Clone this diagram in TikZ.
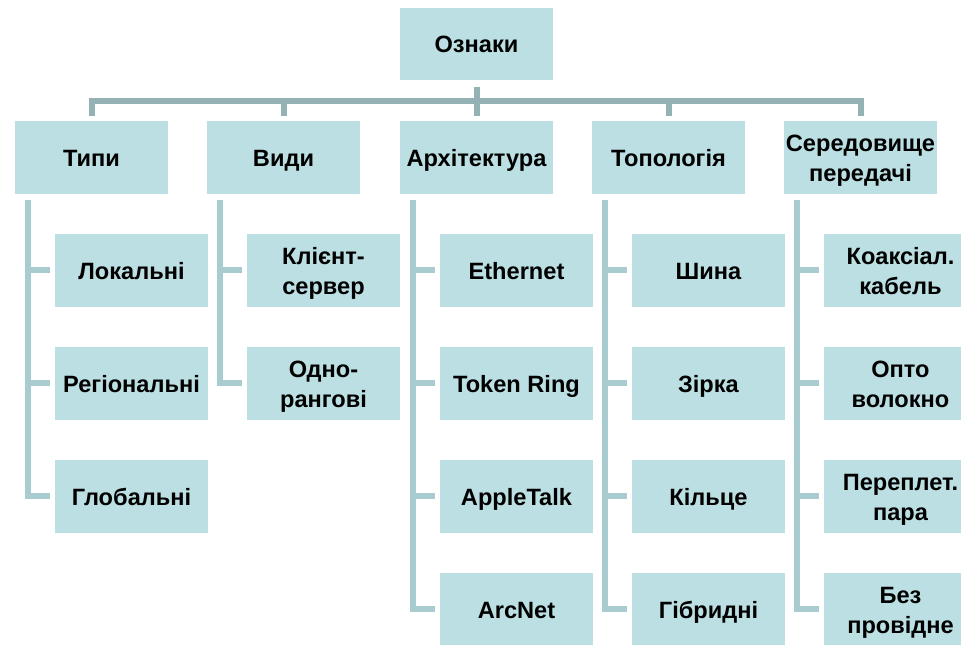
\documentclass[tikz,border=0pt]{standalone}
\usepackage{fontspec}
\setmainfont{Liberation Sans}
\definecolor{boxfill}{HTML}{BBDFE2}
\definecolor{buscol}{HTML}{94B2B4}
\definecolor{branchcol}{HTML}{A8CCCF}
% two centred lines, 30pt apart, around a common midline
\newcommand\pairtext[2]{%
  \makebox[0pt]{\raisebox{15pt}{#1}}\makebox[0pt]{\raisebox{-15pt}{#2}}}
\tikzset{
  cell/.style={rectangle, fill=boxfill, minimum width=153pt, minimum height=73pt,
    inner sep=0pt, text=black,
    font=\bfseries\fontsize{23.6}{28.5}\selectfont},
  % fixed metrics so every baseline sits at the same place in its box
  oneline/.style={text height=21.4pt, text depth=3pt},
  twoline/.style={text height=21pt, text depth=3pt},
  bus/.style={draw=buscol, line width=6pt, line join=miter},
  branch/.style={draw=branchcol, line width=5.5pt, line join=miter},
}
\begin{document}
\begin{tikzpicture}[x=1pt, y=1pt]
  \clip (0,0) rectangle (961,-645);
  \fill[white] (0,0) rectangle (961,-645);

  % root
  \node[cell, oneline, minimum height=72.5pt] (root) at (476.5,-43.75) {Ознаки};

  % first level
  \node[cell, oneline] (c1) at (91.5,-157.5)  {Типи};
  \node[cell, oneline] (c2) at (283.5,-157.5) {Види};
  \node[cell, oneline] (c3) at (476.5,-157.5) {Архітектура};
  \node[cell, oneline] (c4) at (668.5,-157.5) {Топологія};
  \node[cell, twoline] (c5) at (860.5,-157.5) {\pairtext{Середовище}{передачі}};

  % second level
  \begin{scope}[every node/.append style={minimum height=74pt}]
  \node[cell, oneline] (a1) at (131.5,-270) {Локальні};
  \node[cell, oneline] (a2) at (131.5,-383) {Регіональні};
  \node[cell, oneline] (a3) at (131.5,-496) {Глобальні};

  \node[cell, twoline] (b1) at (323.5,-270) {\pairtext{Клієнт-}{сервер}};
  \node[cell, twoline] (b2) at (323.5,-383) {\pairtext{Одно-}{рангові}};

  \node[cell, oneline] (d1) at (516.5,-270) {Ethernet};
  \node[cell, oneline] (d2) at (516.5,-383) {Token Ring};
  \node[cell, oneline] (d3) at (516.5,-496) {AppleTalk};
  \node[cell, oneline] (d4) at (516.5,-609) {ArcNet};

  \node[cell, oneline] (e1) at (708.5,-270) {Шина};
  \node[cell, oneline] (e2) at (708.5,-383) {Зірка};
  \node[cell, oneline] (e3) at (708.5,-496) {Кільце};
  \node[cell, oneline] (e4) at (708.5,-609) {Гібридні};

  \node[cell, twoline] (f1) at (900.5,-270) {\pairtext{Коаксіал.}{кабель}};
  \node[cell, twoline] (f2) at (900.5,-383) {\pairtext{Опто}{волокно}};
  \node[cell, twoline] (f3) at (900.5,-496) {\pairtext{Переплет.}{пара}};
  \node[cell, twoline] (f4) at (900.5,-609) {\pairtext{Без}{провідне}};
  \end{scope}

  % bus from the root to the first level
  \draw[bus] ([yshift=5]c1.north) -- ([yshift=20]c1.north) -| ([yshift=5]c5.north);
  \draw[bus] ([yshift=20]c2.north) -- ([yshift=5]c2.north);
  \draw[bus] ([yshift=20]c4.north) -- ([yshift=5]c4.north);
  \draw[bus] ([yshift=-7]root.south) -- ([yshift=5]c3.north);

  % branch lines to the second level
  \foreach \p/\last/\kids in {c1/a3/{a1,a2}, c2/b2/{b1}, c3/d4/{d1,d2,d3},
                              c4/e4/{e1,e2,e3}, c5/f4/{f1,f2,f3}} {
    \coordinate (top-\p) at ([xshift=13,yshift=-6]\p.south west);
    \draw[branch] (top-\p) |- ([xshift=-5]\last.west);
    \foreach \k in \kids {
      \draw[branch] (\k.west -| top-\p) -- ([xshift=-5]\k.west);
    }
  }
\end{tikzpicture}
\end{document}
